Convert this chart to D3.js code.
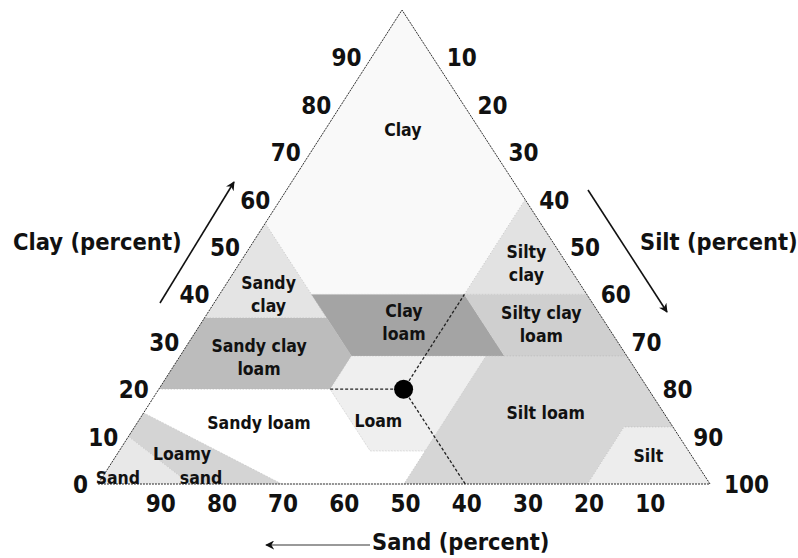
<!DOCTYPE html>
<html>
<head>
<meta charset="utf-8">
<script src="https://cdn.jsdelivr.net/npm/d3@7"></script>
<style>
  body { margin: 0; background: #fff; }
  svg text { font-family: "DejaVu Sans Condensed", "DejaVu Sans", sans-serif; font-weight: bold; fill: #111; }
</style>
</head>
<body>
<div id="chart"></div>
<script>
// soil texture classes, vertices as [sand, silt, clay] percent
var classNames = ["Clay", "Sandy clay", "Silty clay", "Sandy clay loam", "Clay loam",
  "Silty clay loam", "Sandy loam", "Loam", "Silt loam", "Silt", "Loamy sand", "Sand"];

var classVertices = [
  [[45, 0, 55], [0, 0, 100], [0, 40, 60], [20, 40, 40], [45, 15, 40]],
  [[65, 0, 35], [45, 0, 55], [45, 20, 35]],
  [[20, 40, 40], [0, 40, 60], [0, 60, 40]],
  [[80, 0, 20], [65, 0, 35], [45, 20, 35], [45, 28, 27], [52, 28, 20]],
  [[45, 20, 35], [45, 15, 40], [20, 40, 40], [20, 53, 27], [45, 28, 27]],
  [[20, 40, 40], [0, 60, 40], [0, 73, 27], [20, 53, 27]],
  [[80, 0, 20], [52, 28, 20], [52, 41, 7], [43, 50, 7], [50, 50, 0], [70, 30, 0], [85, 0, 15]],
  [[43, 50, 7], [52, 41, 7], [52, 28, 20], [45, 28, 27], [23, 50, 27]],
  [[50, 50, 0], [20, 80, 0], [8, 80, 12], [0, 88, 12], [0, 73, 27], [23, 50, 27], [43, 50, 7]],
  [[20, 80, 0], [0, 100, 0], [0, 88, 12], [8, 80, 12]],
  [[85, 15, 0], [70, 30, 0], [85, 0, 15], [90, 0, 10]],
  [[100, 0, 0], [85, 15, 0], [90, 0, 10]]
];

var classShade = ["#f9f9f9", "#e4e4e4", "#e2e2e2", "#bcbcbc", "#a4a4a4", "#cfcfcf",
  "#ffffff", "#efefef", "#d6d6d6", "#ededed", "#d4d4d4", "#e8e8e8"];

// example sample: 40 sand, 40 silt, 20 clay
var sample = [40, 40, 20];

var clayTicks = [0, 10, 20, 30, 40, 50, 60, 70, 80, 90];
var siltTicks = [10, 20, 30, 40, 50, 60, 70, 80, 90, 100];
var sandTicks = [90, 80, 70, 60, 50, 40, 30, 20, 10];

// where each class name sits, as [sand, silt, clay]
var labelAt = [
  [12.6, 12.7, 74.7], [52, 8, 40], [6.5, 46.8, 46.7], [60.2, 13, 26.8],
  [32.8, 33, 34.2], [10.6, 55.7, 33.7], [67.2, 19.9, 12.9], [47.5, 39.2, 13.3],
  [19.3, 65.7, 15], [7, 86.9, 6.1]
];
var labelLines = [["Clay"], ["Sandy", "clay"], ["Silty", "clay"], ["Sandy clay", "loam"],
  ["Clay", "loam"], ["Silty clay", "loam"], ["Sandy loam"], ["Loam"], ["Silt loam"], ["Silt"]];

// the corner names are split apart in the picture
var cornerAt = [[83, 10.5, 6.5], [82.5, 16.2, 1.3], [96.1, 2.6, 1.3]];
var cornerText = ["Loamy", "sand", "Sand"];

var svgWidth = 798, svgHeight = 558;

var svg = d3.select("#chart").append("svg")
  .attr("width", svgWidth)
  .attr("height", svgHeight);

// corners of the triangle
var triLeft = 98, triRight = 710, apexX = 402, triBottom = 484, triTop = 10;

// clay sets the height, edges move in toward the apex
var yClay = d3.scaleLinear().domain([0, 100]).range([triBottom, triTop]);
var xLeftEdge = d3.scaleLinear().domain([0, 100]).range([triLeft, apexX]);
var xRightEdge = d3.scaleLinear().domain([0, 100]).range([triRight, apexX]);

function project(p) {
  var sand = p[0], silt = p[1], clay = p[2];
  var xl = xLeftEdge(clay), xr = xRightEdge(clay);
  var f = (sand + silt) > 0 ? silt / (sand + silt) : 0.5;
  return [xl + (xr - xl) * f, yClay(clay)];
}

var line = d3.line();

// class areas
svg.append("g").selectAll("path")
  .data(classVertices)
  .enter()
  .append("path")
  .attr("d", function(v) { return line(v.map(project)) + "Z"; })
  .attr("fill", function(v, i) { return classShade[i]; })
  .attr("stroke", "#bbb")
  .attr("stroke-width", 0.6)
  .attr("stroke-dasharray", "1,2");

// triangle outline
svg.append("path")
  .attr("d", line([[100, 0, 0], [0, 100, 0], [0, 0, 100]].map(project)) + "Z")
  .attr("fill", "none")
  .attr("stroke", "#333")
  .attr("stroke-width", 1)
  .attr("stroke-dasharray", "2,1");

// guide lines through the sample
var guides = [
  [[52, 28, 20], sample],
  [sample, [20, 40, 40]],
  [sample, [40, 60, 0]]
];
svg.append("g").selectAll("path")
  .data(guides)
  .enter()
  .append("path")
  .attr("d", function(g) { return line(g.map(project)); })
  .attr("stroke", "#222")
  .attr("stroke-width", 1.3)
  .attr("stroke-dasharray", "3,2")
  .attr("fill", "none");

svg.append("circle")
  .attr("cx", project(sample)[0])
  .attr("cy", project(sample)[1])
  .attr("r", 9.5)
  .attr("fill", "#000");

// class labels
var labelG = svg.append("g");
labelAt.forEach(function(at, k) {
  var p = project(at);
  var lines = labelLines[k];
  var t = labelG.append("text")
    .attr("text-anchor", "middle")
    .attr("font-size", "17.5px");
  lines.forEach(function(s, i) {
    t.append("tspan")
      .attr("x", p[0])
      .attr("y", p[1] + (i - (lines.length - 1) / 2) * 23 + 6.5)
      .text(s);
  });
});

labelG.selectAll(".corner")
  .data(cornerAt)
  .enter()
  .append("text")
  .attr("class", "corner")
  .attr("x", function(d) { return project(d)[0]; })
  .attr("y", function(d) { return project(d)[1] + 6.5; })
  .attr("text-anchor", "middle")
  .attr("font-size", "17.5px")
  .text(function(d, i) { return cornerText[i]; });

// clay ticks along the left edge
svg.append("g").selectAll("text")
  .data(clayTicks)
  .enter()
  .append("text")
  .attr("x", function(d) { return xLeftEdge(d) - 10; })
  .attr("y", function(d) { return yClay(d) + 9; })
  .attr("text-anchor", "end")
  .attr("font-size", "24px")
  .text(function(d) { return d; });

// silt ticks along the right edge
svg.append("g").selectAll("text")
  .data(siltTicks)
  .enter()
  .append("text")
  .attr("x", function(d) { return xRightEdge(100 - d) + 14; })
  .attr("y", function(d) { return yClay(100 - d) + 9; })
  .attr("text-anchor", "start")
  .attr("font-size", "24px")
  .text(function(d) { return d; });

// sand ticks below the base
svg.append("g").selectAll("text")
  .data(sandTicks)
  .enter()
  .append("text")
  .attr("x", function(d) { return project([d, 100 - d, 0])[0] + 1.5; })
  .attr("y", triBottom + 28)
  .attr("text-anchor", "middle")
  .attr("font-size", "24px")
  .text(function(d) { return d; });

// axis titles and arrows
var defs = svg.append("defs");
defs.append("marker")
  .attr("id", "head")
  .attr("viewBox", "0 0 10 10")
  .attr("refX", 9).attr("refY", 5)
  .attr("markerWidth", 9).attr("markerHeight", 9)
  .attr("markerUnits", "userSpaceOnUse")
  .attr("orient", "auto")
  .append("path")
  .attr("d", "M0,0L10,5L0,10L3,5Z")
  .attr("fill", "#111");

svg.append("text")
  .attr("x", 13).attr("y", 250)
  .attr("font-size", "23.5px")
  .text("Clay (percent)");
svg.append("line")
  .attr("x1", 160).attr("y1", 303).attr("x2", 234).attr("y2", 182)
  .attr("stroke", "#111").attr("stroke-width", 1.6)
  .attr("marker-end", "url(#head)");

svg.append("text")
  .attr("x", 640).attr("y", 250)
  .attr("font-size", "23.4px")
  .text("Silt (percent)");
svg.append("line")
  .attr("x1", 588).attr("y1", 190).attr("x2", 667).attr("y2", 312)
  .attr("stroke", "#111").attr("stroke-width", 1.6)
  .attr("marker-end", "url(#head)");

svg.append("text")
  .attr("x", 372).attr("y", 550)
  .attr("font-size", "23.4px")
  .text("Sand (percent)");
svg.append("line")
  .attr("x1", 370).attr("y1", 545).attr("x2", 266).attr("y2", 545)
  .attr("stroke", "#777").attr("stroke-width", 1.6)
  .attr("marker-end", "url(#head)");
</script>
</body>
</html>
